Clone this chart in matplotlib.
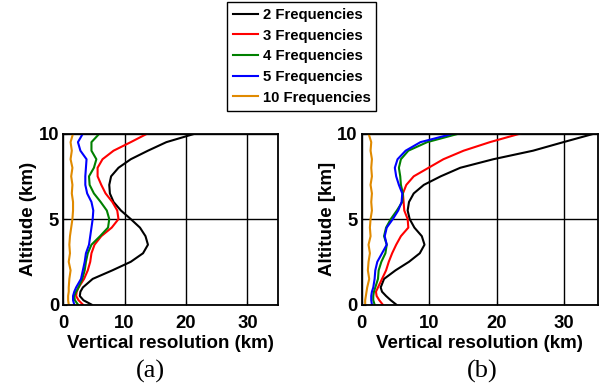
import matplotlib
matplotlib.use("Agg")
import matplotlib.pyplot as plt

plt.rcParams['font.family'] = ['Liberation Sans', 'DejaVu Sans']

# altitude levels (km)
alt = [0, 0.25, 0.5, 0.75, 1.0, 1.5, 2.0, 2.5, 3.0, 3.5, 4.0, 4.5, 5.0,
       5.5, 6.0, 6.5, 7.0, 7.5, 8.0, 8.5, 9.0, 9.5, 10.0]

labels = ['2 Frequencies', '3 Frequencies', '4 Frequencies',
          '5 Frequencies', '10 Frequencies']
colors = ['black', 'red', 'green', 'blue', '#e08a00']

# panel (a) vertical resolution (km)
a_f2 = [4.6, 3.3, 2.7, 2.8, 3.2, 4.8, 8.0, 11.0, 13.0, 13.8, 13.4, 12.5, 11.0,
        9.4, 8.2, 7.6, 7.5, 7.8, 9.0, 11.0, 13.8, 16.8, 21.5]
a_f3 = [3.2, 2.5, 2.1, 2.2, 2.5, 3.4, 4.0, 4.4, 4.6, 5.1, 6.2, 7.9, 9.0,
        8.8, 8.0, 6.9, 6.2, 5.6, 5.6, 6.4, 8.2, 11.0, 13.7]
a_f4 = [2.4, 1.9, 1.8, 2.1, 2.5, 3.1, 3.5, 3.7, 4.0, 4.6, 6.0, 7.3, 7.5,
        7.1, 6.1, 5.0, 4.3, 4.2, 5.0, 5.4, 4.6, 4.6, 5.9]
a_f5 = [1.8, 1.6, 1.6, 1.8, 2.1, 2.9, 3.2, 3.5, 3.7, 4.2, 4.4, 4.6, 4.8,
        4.9, 4.6, 3.9, 3.6, 3.6, 3.7, 3.8, 2.8, 2.4, 3.2]
a_f10 = [0.9, 0.8, 0.8, 0.9, 0.9, 1.0, 1.2, 0.9, 1.1, 1.0, 1.1, 1.3, 1.5,
         1.6, 1.6, 1.4, 1.5, 1.3, 1.5, 1.2, 1.4, 1.2, 1.6]

# panel (b) vertical resolution (km)
b_f2 = [5.1, 4.3, 3.6, 3.0, 2.8, 3.3, 5.0, 7.0, 8.6, 9.3, 8.9, 7.8, 7.1,
        6.8, 7.0, 7.7, 9.2, 11.7, 14.6, 19.5, 25.4, 29.9, 34.5]
b_f3 = [3.1, 2.6, 2.2, 2.1, 2.4, 3.0, 3.6, 4.0, 4.5, 5.1, 5.8, 6.9, 6.8,
        6.3, 6.2, 6.1, 6.6, 7.7, 9.9, 12.1, 15.1, 19.0, 23.5]
b_f4 = [1.9, 1.7, 1.7, 1.8, 2.0, 2.4, 2.5, 2.9, 3.5, 3.7, 3.3, 3.6, 4.3,
        5.2, 6.0, 6.1, 5.8, 5.7, 5.5, 5.8, 6.9, 9.7, 14.4]
b_f5 = [1.5, 1.4, 1.4, 1.5, 1.7, 1.9, 2.0, 2.3, 3.0, 3.7, 3.4, 3.7, 4.6,
        5.4, 5.9, 6.0, 5.5, 5.1, 4.9, 5.3, 6.5, 8.7, 13.6]
b_f10 = [0.5, 0.5, 0.6, 0.7, 0.8, 1.1, 0.9, 1.0, 1.2, 1.0, 1.3, 1.2, 1.3,
         1.5, 1.4, 1.5, 1.3, 1.5, 1.4, 1.5, 1.3, 1.4, 1.0]

fig = plt.figure(figsize=(6.02, 3.85), dpi=100)
ax_a = fig.add_axes([0.105, 0.209, 0.357, 0.444])
ax_b = fig.add_axes([0.601, 0.209, 0.392, 0.444])

panels = [
    (ax_a, [a_f2, a_f3, a_f4, a_f5, a_f10], 'Altitude (km)', '(a)', 150),
    (ax_b, [b_f2, b_f3, b_f4, b_f5, b_f10], 'Altitude [km]', '(b)', 482),
]

for ax, series, ylab, tag, tag_x in panels:
    for vals, c, lab in zip(series, colors, labels):
        ax.plot(vals, alt, color=c, lw=1.5, label=lab)
    ax.set_xlim(0, 35)
    ax.set_ylim(0, 10)
    ax.set_xticks([0, 10, 20, 30])
    ax.set_yticks([0, 5, 10])
    ax.grid(True, color='black', lw=1.0)
    ax.set_axisbelow(True)
    ax.tick_params(direction='in', length=3, labelsize=13.3)
    ax.tick_params(axis='x', pad=7.5)
    ax.tick_params(axis='y', pad=3)
    for t in ax.get_xticklabels() + ax.get_yticklabels():
        t.set_fontweight('bold')
    for s in ax.spines.values():
        s.set_linewidth(1.3)
    ax.set_xlabel('Vertical resolution (km)', fontsize=13.5,
                  fontweight='bold', labelpad=2)
    ax.set_ylabel(ylab, fontsize=13.5, fontweight='bold', labelpad=1)
    fig.text(tag_x / 602, 1 - 371 / 385, tag, ha='center', va='center',
             fontsize=19, family='Liberation Serif')

handles, _ = ax_a.get_legend_handles_labels()
leg = fig.legend(handles, labels, loc='upper left',
                 bbox_to_anchor=(227 / 602, 1 - 2 / 385), borderaxespad=0,
                 prop={'weight': 'bold', 'size': 10.7},
                 handlelength=1.7, handletextpad=0.3, labelspacing=0.45,
                 borderpad=0.4, fancybox=False, framealpha=1,
                 edgecolor='black')
leg.get_frame().set_linewidth(1.0)

fig.savefig('out.png', dpi=100)
